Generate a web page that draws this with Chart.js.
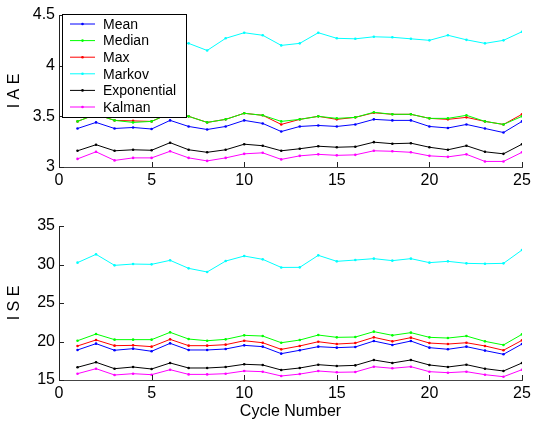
<!DOCTYPE html>
<html lang="en">
<head>
<meta charset="UTF-8">
<title>IAE / ISE per cycle</title>
<script src="https://cdn.jsdelivr.net/npm/chart.js@4.4.1/dist/chart.umd.min.js"></script>
<style>
  html, body { margin: 0; padding: 0; background: #fff; }
  #wrap { position: relative; width: 536px; height: 421px; }
  canvas { position: absolute; left: 0; }
</style>
</head>
<body>
<div id="wrap">
  <canvas id="iae" width="536" height="200" style="top:0"></canvas>
  <canvas id="ise" width="536" height="221" style="top:200px"></canvas>
</div>
<script>
var cycles = [1,2,3,4,5,6,7,8,9,10,11,12,13,14,15,16,17,18,19,20,21,22,23,24,25];
var names = ['Mean', 'Median', 'Max', 'Markov', 'Exponential', 'Kalman'];
var colors = ['#0000ff', '#00ff00', '#ff0000', '#00ffff', '#000000', '#ff00ff'];

// IAE values (top)
var iaeMean   = [3.38,3.44,3.38,3.39,3.375,3.46,3.40,3.37,3.40,3.46,3.43,3.35,3.40,3.41,3.40,3.42,3.47,3.46,3.46,3.40,3.385,3.42,3.38,3.34,3.45];
var iaeMedian = [3.45,3.52,3.46,3.44,3.45,3.53,3.50,3.44,3.47,3.53,3.51,3.45,3.47,3.50,3.48,3.49,3.54,3.52,3.52,3.48,3.48,3.51,3.45,3.42,3.50];
var iaeMax    = [3.45,3.52,3.46,3.455,3.45,3.53,3.50,3.44,3.47,3.53,3.51,3.42,3.47,3.50,3.47,3.49,3.535,3.52,3.52,3.48,3.47,3.49,3.45,3.42,3.52];
var iaeMarkov = [4.27,4.30,4.25,4.26,4.28,4.22,4.22,4.15,4.27,4.325,4.30,4.20,4.22,4.325,4.27,4.265,4.285,4.28,4.265,4.25,4.30,4.255,4.22,4.25,4.335];
var iaeExp    = [3.16,3.22,3.16,3.17,3.165,3.24,3.17,3.145,3.17,3.225,3.21,3.16,3.18,3.205,3.195,3.20,3.245,3.23,3.235,3.195,3.17,3.21,3.15,3.13,3.225];
var iaeKalman = [3.08,3.15,3.065,3.09,3.09,3.155,3.09,3.06,3.09,3.13,3.14,3.075,3.11,3.125,3.115,3.12,3.16,3.155,3.145,3.11,3.10,3.125,3.055,3.055,3.145];

// ISE values (bottom)
var iseMean   = [18.9,19.72,18.86,19.07,18.73,19.76,18.9,18.9,19.03,19.5,19.33,18.42,18.86,19.33,19.2,19.29,20.06,19.55,20.06,19.2,18.99,19.33,18.82,18.34,19.67];
var iseMedian = [20.1,20.97,20.24,20.24,20.24,21.19,20.32,20.1,20.28,20.8,20.71,19.84,20.19,20.84,20.54,20.58,21.28,20.8,21.15,20.54,20.45,20.71,20.02,19.55,20.93];
var iseMax    = [19.42,20.2,19.46,19.5,19.33,20.28,19.46,19.46,19.59,20.1,19.84,18.98,19.42,19.97,19.67,19.8,20.54,20.02,20.5,19.8,19.67,19.84,19.42,18.86,20.15];
var iseMarkov = [30.24,31.32,29.89,30.06,30.02,30.54,29.5,29.03,30.45,31.1,30.67,29.62,29.63,31.19,30.41,30.58,30.76,30.5,30.76,30.24,30.41,30.15,30.1,30.15,31.88];
var iseExp    = [16.65,17.3,16.47,16.69,16.43,17.21,16.56,16.56,16.69,17.04,16.95,16.3,16.56,16.99,16.82,16.9,17.6,17.21,17.6,16.95,16.69,16.99,16.47,16.17,17.21];
var iseKalman = [15.82,16.47,15.65,15.82,15.69,16.34,15.73,15.73,15.82,16.17,16.08,15.52,15.77,16.17,16.0,16.04,16.73,16.52,16.73,16.08,15.95,16.08,15.69,15.43,16.34];

Chart.defaults.font.family = '"Liberation Sans", Arial, sans-serif';
Chart.defaults.font.size = 16;
Chart.defaults.color = '#000';
Chart.defaults.animation = false;

function makeSets(series) {
  return series.map(function(vals, i) {
    return {
      label: names[i],
      data: cycles.map(function(c, k) { return {x: c, y: vals[k]}; }),
      borderColor: colors[i],
      backgroundColor: colors[i],
      borderWidth: 1,
      pointRadius: 1.3,
      pointBorderWidth: 0,
      pointHoverRadius: 0,
      tension: 0
    };
  });
}

// matlab style ticks pointing into the plot
var inwardTicks = {
  id: 'inwardTicks',
  afterDraw: function(chart) {
    var c = chart.ctx, a = chart.chartArea;
    c.save();
    c.strokeStyle = '#222';
    c.lineWidth = 1;
    var xs = chart.scales.x, ys = chart.scales.y;
    xs.ticks.forEach(function(t) {
      var px = Math.round(xs.getPixelForValue(t.value)) + 0.5;
      c.beginPath(); c.moveTo(px, a.bottom); c.lineTo(px, a.bottom - 5); c.stroke();
    });
    ys.ticks.forEach(function(t) {
      var py = Math.round(ys.getPixelForValue(t.value)) + 0.5;
      c.beginPath(); c.moveTo(a.left, py); c.lineTo(a.left + 5, py); c.stroke();
    });
    c.restore();
  }
};

// legend box drawn inside the top plot
var boxLegend = {
  id: 'boxLegend',
  afterDraw: function(chart) {
    if (!chart.options.plugins.boxLegend || !chart.options.plugins.boxLegend.show) return;
    var c = chart.ctx;
    var x0 = 62, y0 = 14, w = 124, h = 103;
    c.save();
    c.fillStyle = '#fff';
    c.fillRect(x0, y0, w, h);
    c.strokeStyle = '#000';
    c.lineWidth = 1;
    c.strokeRect(x0 + 0.5, y0 + 0.5, w, h);
    c.font = '14px "Liberation Sans", Arial, sans-serif';
    c.textBaseline = 'middle';
    c.fillStyle = '#000';
    chart.data.datasets.forEach(function(ds, i) {
      var y = 24 + i * 16.6;
      c.strokeStyle = ds.borderColor;
      c.beginPath(); c.moveTo(70, y); c.lineTo(95, y); c.stroke();
      c.fillStyle = ds.borderColor;
      c.beginPath(); c.arc(82.5, y, 1.3, 0, Math.PI * 2); c.fill();
      c.fillStyle = '#000';
      c.fillText(ds.label, 103, y + 1);
    });
    c.restore();
  }
};

function plainNum(v) { return String(Math.round(v * 100) / 100); }

function makeChart(id, series, yMin, yMax, yStep, yTitle, xTitle, padTop, xH, legend) {
  return new Chart(document.getElementById(id), {
    type: 'line',
    data: { datasets: makeSets(series) },
    options: {
      responsive: false,
      layout: { padding: { top: padTop, right: 14, left: 0, bottom: 0 } },
      plugins: { legend: { display: false }, tooltip: { enabled: false }, boxLegend: { show: legend } },
      scales: {
        x: {
          type: 'linear', min: 0, max: 25,
          ticks: { stepSize: 5, padding: 4, maxRotation: 0, callback: plainNum },
          grid: { drawOnChartArea: false, drawTicks: false },
          border: { color: '#444', width: 1 },
          title: { display: !!xTitle, text: xTitle, padding: { top: 0, bottom: 0 } },
          afterFit: function(s) { s.height = xH; }
        },
        y: {
          min: yMin, max: yMax,
          ticks: { stepSize: yStep, padding: 4, callback: plainNum },
          grid: { drawOnChartArea: false, drawTicks: false },
          border: { color: '#222', width: 1 },
          title: { display: true, text: yTitle, padding: { top: 5, bottom: 0 } },
          afterFit: function(s) { s.width = 59; }
        }
      }
    },
    plugins: [inwardTicks, boxLegend]
  });
}

makeChart('iae', [iaeMean, iaeMedian, iaeMax, iaeMarkov, iaeExp, iaeKalman], 3, 4.5, 0.5, 'I A E', '', 15, 33, true);
makeChart('ise', [iseMean, iseMedian, iseMax, iseMarkov, iseExp, iseKalman], 15, 35, 5, 'I S E', 'Cycle Number', 26, 41, false);
</script>
</body>
</html>
